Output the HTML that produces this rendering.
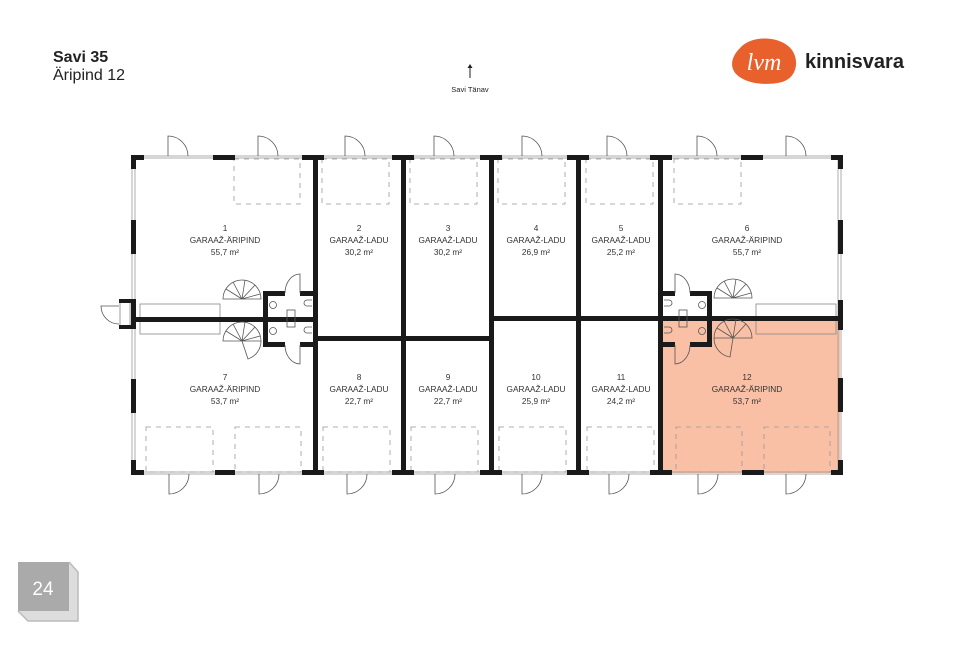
<!DOCTYPE html>
<html><head><meta charset="utf-8"><style>
html,body{margin:0;padding:0;background:#fff;}
body{width:960px;height:640px;overflow:hidden;position:relative;font-family:"Liberation Sans",sans-serif;}
</style></head><body>
<svg width="960" height="640" viewBox="0 0 960 640" xmlns="http://www.w3.org/2000/svg" font-family="Liberation Sans, sans-serif">
<!-- header -->
<text x="53" y="62" font-size="16" font-weight="bold" fill="#222">Savi 35</text>
<text x="53" y="80" font-size="16" fill="#222">Äripind 12</text>
<line x1="470" y1="78" x2="470" y2="66" stroke="#222" stroke-width="1"/>
<path d="M467.5 68 L470 64 L472.5 68Z" fill="#222"/>
<text x="470" y="92" font-size="7.5" text-anchor="middle" fill="#222">Savi Tänav</text>
<!-- logo -->
<path d="M740 48 C752 34 782 36 792 50 C800 62 796 78 782 82 C766 86 746 84 736 74 C729 66 732 56 740 48Z" fill="#e8602c"/>
<text x="764" y="70" font-size="24" font-style="italic" font-family="Liberation Serif, serif" fill="#fff" text-anchor="middle">lvm</text>
<text x="805" y="68" font-size="20" font-weight="bold" fill="#222">kinnisvara</text>
<!-- page badge -->
<path d="M18 562 L69 562 L78 572 L78 621 L28 621 L18 611Z" fill="#ddd"/>
<path d="M18 562 L69 562 L69 611 L18 611Z" fill="#aaa"/>
<path d="M69 562 L78 572 L78 621 L28 621 L18 611" fill="none" stroke="#bbb" stroke-width="1.5"/>
<text x="43" y="595" font-size="19" fill="#fff" text-anchor="middle">24</text>

<!-- highlight -->
<rect x="661" y="319" width="179" height="154" fill="#f9c0a6"/>

<!-- outer glazing -->
<g fill="none" stroke="#999" stroke-width="0.8">
<rect x="132" y="156" width="709" height="318"/>
<rect x="135" y="158" width="703" height="314"/>
</g>
<!-- dashed parking -->
<g fill="none" stroke="#999" stroke-width="0.8" stroke-dasharray="5,5">
<rect x="234" y="159" width="66" height="45"/>
<rect x="322" y="159" width="67" height="45"/>
<rect x="410" y="159" width="67" height="45"/>
<rect x="498" y="159" width="67" height="45"/>
<rect x="586" y="159" width="67" height="45"/>
<rect x="674" y="159" width="67" height="45"/>
<rect x="146" y="427" width="67" height="45"/>
<rect x="235" y="427" width="66" height="45"/>
<rect x="323" y="427" width="67" height="45"/>
<rect x="411" y="427" width="67" height="45"/>
<rect x="499" y="427" width="67" height="45"/>
<rect x="587" y="427" width="67" height="45"/>
<rect x="676" y="427" width="66" height="45"/>
<rect x="764" y="427" width="66" height="45"/>
</g>
<!-- benches -->
<g fill="none" stroke="#888" stroke-width="0.8">
<rect x="140" y="304" width="80" height="30"/>
<rect x="756" y="304" width="80" height="30"/>
<rect x="120" y="301" width="10" height="26"/>
</g>
<!-- walls -->
<g fill="#1a1a1a">
<rect x="131" y="155" width="13" height="5"/><rect x="131" y="155" width="5" height="14"/>
<rect x="213" y="155" width="22" height="5"/>
<rect x="302" y="155" width="22" height="5"/>
<rect x="392" y="155" width="22" height="5"/>
<rect x="480" y="155" width="22" height="5"/>
<rect x="567" y="155" width="22" height="5"/>
<rect x="650" y="155" width="22" height="5"/>
<rect x="741" y="155" width="22" height="5"/>
<rect x="831" y="155" width="12" height="5"/><rect x="838" y="155" width="5" height="14"/>
<rect x="131" y="470" width="13" height="5"/><rect x="131" y="460" width="5" height="14"/>
<rect x="215" y="470" width="20" height="5"/>
<rect x="302" y="470" width="22" height="5"/>
<rect x="392" y="470" width="22" height="5"/>
<rect x="480" y="470" width="22" height="5"/>
<rect x="567" y="470" width="22" height="5"/>
<rect x="650" y="470" width="22" height="5"/>
<rect x="742" y="470" width="22" height="5"/>
<rect x="831" y="470" width="12" height="5"/><rect x="838" y="460" width="5" height="14"/>
<rect x="131" y="220" width="5" height="34"/>
<rect x="131" y="379" width="5" height="34"/>
<rect x="838" y="220" width="5" height="34"/>
<rect x="838" y="378" width="5" height="34"/>
<rect x="838" y="300" width="5" height="30"/>
<rect x="119" y="299" width="14" height="4"/><rect x="119" y="325" width="14" height="4"/><rect x="131" y="299" width="5" height="30"/>
<rect x="313" y="157" width="5" height="316"/>
<rect x="401" y="157" width="5" height="316"/>
<rect x="489" y="157" width="5" height="316"/>
<rect x="576" y="157" width="5" height="316"/>
<rect x="658" y="157" width="5" height="316"/>
<rect x="133" y="317" width="183" height="5"/>
<rect x="316" y="336" width="175" height="5"/>
<rect x="491" y="316" width="349" height="5"/>
<rect x="263" y="291" width="5" height="55"/>
<rect x="263" y="291" width="22" height="5"/><rect x="300" y="291" width="16" height="5"/>
<rect x="263" y="342" width="22" height="5"/><rect x="300" y="342" width="16" height="5"/>
<rect x="707" y="291" width="5" height="55"/>
<rect x="660" y="291" width="15" height="5"/><rect x="690" y="291" width="22" height="5"/>
<rect x="660" y="342" width="15" height="5"/><rect x="690" y="342" width="22" height="5"/>
</g>
<!-- doors -->
<g fill="none" stroke="#555" stroke-width="0.8">
<path d="M168 156 V136 A20 20 0 0 1 188 156"/>
<path d="M258 156 V136 A20 20 0 0 1 278 156"/>
<path d="M345 156 V136 A20 20 0 0 1 365 156"/>
<path d="M434 156 V136 A20 20 0 0 1 454 156"/>
<path d="M522 156 V136 A20 20 0 0 1 542 156"/>
<path d="M607 156 V136 A20 20 0 0 1 627 156"/>
<path d="M697 156 V136 A20 20 0 0 1 717 156"/>
<path d="M786 156 V136 A20 20 0 0 1 806 156"/>
<path d="M169 474 V494 A20 20 0 0 0 189 474"/>
<path d="M259 474 V494 A20 20 0 0 0 279 474"/>
<path d="M347 474 V494 A20 20 0 0 0 367 474"/>
<path d="M435 474 V494 A20 20 0 0 0 455 474"/>
<path d="M522 474 V494 A20 20 0 0 0 542 474"/>
<path d="M609 474 V494 A20 20 0 0 0 629 474"/>
<path d="M698 474 V494 A20 20 0 0 0 718 474"/>
<path d="M786 474 V494 A20 20 0 0 0 806 474"/>
<path d="M119 306 H101 A18 18 0 0 0 119 324"/>
<path d="M300 293 V274 A15 19 0 0 0 285 293"/>
<path d="M300 345 V364 A15 19 0 0 1 285 345"/>
<path d="M675 293 V274 A15 19 0 0 1 690 293"/>
<path d="M675 345 V364 A15 19 0 0 0 690 345"/>
<circle cx="273" cy="305" r="3.5"/><circle cx="273" cy="331" r="3.5"/>
<rect x="287" y="310" width="8" height="17"/>
<path d="M312 300 h-5 a3 3 0 0 0 0 6 h5"/><path d="M312 327 h-5 a3 3 0 0 0 0 6 h5"/>
<circle cx="702" cy="305" r="3.5"/><circle cx="702" cy="331" r="3.5"/>
<rect x="679" y="310" width="8" height="17"/>
<path d="M664 300 h5 a3 3 0 0 1 0 6 h-5"/><path d="M664 327 h5 a3 3 0 0 1 0 6 h-5"/>
<path d="M242 299 L223 299 A19 19 0 0 1 261 299 Z M242 299 L226 289 M242 299 L233 282 M242 299 L245 280 M242 299 L255 285 M242 299 L260 294"/>
<path d="M242 341 L223 341 A19 19 0 0 1 261 341 L242 341 M242 341 L226 331 M242 341 L233 324 M242 341 L245 322 M242 341 L255 327 M242 341 L260 336 M242 341 L248 359 A19 19 0 0 0 261 341"/>
<path d="M733 298 L714 298 A19 19 0 0 1 752 298 Z M733 298 L717 288 M733 298 L724 281 M733 298 L736 279 M733 298 L746 284 M733 298 L751 293"/>
<path d="M733 338 L714 338 A19 19 0 0 1 752 338 Z M733 338 L717 328 M733 338 L724 321 M733 338 L736 319 M733 338 L746 324 M733 338 L730 357 A19 19 0 0 1 714 338"/>
</g>
<!-- labels -->
<g font-size="8.3" fill="#333" text-anchor="middle">
<text x="225" y="231">1</text><text x="225" y="243">GARAAŽ-ÄRIPIND</text><text x="225" y="255">55,7 m²</text>
<text x="359" y="231">2</text><text x="359" y="243">GARAAŽ-LADU</text><text x="359" y="255">30,2 m²</text>
<text x="448" y="231">3</text><text x="448" y="243">GARAAŽ-LADU</text><text x="448" y="255">30,2 m²</text>
<text x="536" y="231">4</text><text x="536" y="243">GARAAŽ-LADU</text><text x="536" y="255">26,9 m²</text>
<text x="621" y="231">5</text><text x="621" y="243">GARAAŽ-LADU</text><text x="621" y="255">25,2 m²</text>
<text x="747" y="231">6</text><text x="747" y="243">GARAAŽ-ÄRIPIND</text><text x="747" y="255">55,7 m²</text>
<text x="225" y="380">7</text><text x="225" y="392">GARAAŽ-ÄRIPIND</text><text x="225" y="404">53,7 m²</text>
<text x="359" y="380">8</text><text x="359" y="392">GARAAŽ-LADU</text><text x="359" y="404">22,7 m²</text>
<text x="448" y="380">9</text><text x="448" y="392">GARAAŽ-LADU</text><text x="448" y="404">22,7 m²</text>
<text x="536" y="380">10</text><text x="536" y="392">GARAAŽ-LADU</text><text x="536" y="404">25,9 m²</text>
<text x="621" y="380">11</text><text x="621" y="392">GARAAŽ-LADU</text><text x="621" y="404">24,2 m²</text>
<text x="747" y="380">12</text><text x="747" y="392">GARAAŽ-ÄRIPIND</text><text x="747" y="404">53,7 m²</text>
</g>
</svg>
</body></html>
